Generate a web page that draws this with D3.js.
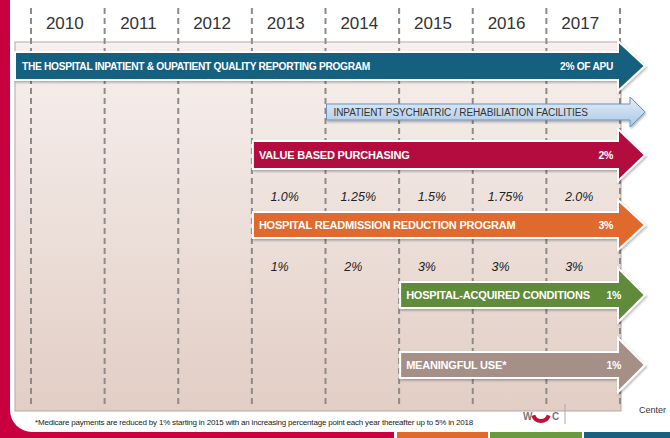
<!DOCTYPE html>
<html>
<head>
<meta charset="utf-8">
<script src="https://cdn.jsdelivr.net/npm/d3@7"></script>
<style>
  body { margin: 0; background: #fff; }
  svg { display: block; font-family: "Liberation Sans", Arial, sans-serif; }
</style>
</head>
<body>
<svg id="chart"></svg>
<script>
// years across the top
const years = ["2010", "2011", "2012", "2013", "2014", "2015", "2016", "2017"];

// programs (arrows)
const programNames = [
  "THE HOSPITAL INPATIENT  & OUPATIENT QUALITY REPORTING PROGRAM",
  "INPATIENT PSYCHIATRIC / REHABILIATION FACILITIES",
  "VALUE BASED PURCHASING",
  "HOSPITAL READMISSION REDUCTION PROGRAM",
  "HOSPITAL-ACQUIRED CONDITIONS",
  "MEANINGFUL USE*"
];
const programStart = ["2010", "2014", "2013", "2013", "2015", "2015"];
const programPenalty = ["2% OF APU", "", "2%", "3%", "1%", "1%"];

// yearly percentages under VBP and HRRP
const pctYears = ["2013", "2014", "2015", "2016", "2017"];
const vbpPct = ["1.0%", "1.25%", "1.5%", "1.75%", "2.0%"];
const hrrpPct = ["1%", "2%", "3%", "3%", "3%"];

const footnote = "*Medicare payments are reduced by 1% starting in 2015 with an increasing percentage point each year thereafter up to 5% in 2018";

const width = 670, height = 438;
const panel = {left: 15, right: 621, top: 42, bottom: 411};

const svg = d3.select("#chart")
  .attr("width", width)
  .attr("height", height);

const defs = svg.append("defs");
const pg = defs.append("linearGradient").attr("id", "panelGrad")
  .attr("x1", 0).attr("y1", 0).attr("x2", 0).attr("y2", 1);
pg.append("stop").attr("offset", "0%").attr("stop-color", "#f7f0ee");
pg.append("stop").attr("offset", "100%").attr("stop-color", "#e2cec5");

const lb = defs.append("linearGradient").attr("id", "lightBlue")
  .attr("x1", 0).attr("y1", 0).attr("x2", 0).attr("y2", 1);
lb.append("stop").attr("offset", "0%").attr("stop-color", "#e3eef9");
lb.append("stop").attr("offset", "100%").attr("stop-color", "#a9c7e6");

const shadow = defs.append("filter").attr("id", "shadow")
  .attr("x", "-5%").attr("y", "-30%").attr("width", "110%").attr("height", "160%");
shadow.append("feDropShadow").attr("dx", 1).attr("dy", 1.5).attr("stdDeviation", 1.2)
  .attr("flood-color", "#000").attr("flood-opacity", 0.3);

// red frame + white rounded area
svg.append("rect").attr("x", 0).attr("y", 0).attr("width", width).attr("height", height).attr("fill", "#c80040");
svg.append("rect").attr("x", 10).attr("y", -40).attr("width", 700).attr("height", 472)
  .attr("rx", 22).attr("fill", "#fff");

// bottom coloured strips
const strips = [["#fff", 394, 397], ["#e06a2c", 397, 488], ["#fff", 488, 490], ["#6a9a3c", 490, 582], ["#fff", 582, 584], ["#17607f", 584, 670]];
svg.selectAll(".strip").data(strips).enter().append("rect")
  .attr("x", d => d[1]).attr("y", 432).attr("width", d => d[2] - d[1]).attr("height", 6)
  .attr("fill", d => d[0]);

// panel
svg.append("rect")
  .attr("x", panel.left).attr("y", panel.top)
  .attr("width", panel.right - panel.left).attr("height", panel.bottom - panel.top)
  .attr("fill", "url(#panelGrad)")
  .attr("stroke", "#b9a8a1").attr("stroke-width", 1);

// year scale
const x = d3.scaleBand().domain(years).range([31, 620]);

// dashed year separators
const bounds = years.map(d => x(d)).concat([x.range()[1]]);
svg.selectAll(".sep").data(bounds).enter().append("line")
  .attr("x1", d => d).attr("x2", d => d)
  .attr("y1", 8).attr("y2", 408)
  .attr("stroke", "#8e8a88").attr("stroke-width", 2)
  .attr("stroke-dasharray", "6,4");

// year labels
svg.selectAll(".year").data(years).enter().append("text")
  .attr("x", d => x(d) + x.bandwidth() / 2 - 3)
  .attr("y", 29)
  .attr("text-anchor", "middle")
  .attr("font-size", 17)
  .attr("fill", "#333")
  .text(d => d);

// row layout (centre y of each arrow)
const rowY = [66, 112, 155, 225, 295, 365];
const bodyHalf = [14, 8, 14, 13, 13, 13];
const headHalf = [25, 15, 26, 25, 27, 27];
const headLen = [27, 15, 27, 27, 27, 27];
const fills = ["#19617f", "url(#lightBlue)", "#b3073f", "#e0692d", "#5f8b3a", "#a58f86"];
const strokes = ["#fff", "#6f93b8", "#fff", "#fff", "#fff", "#fff"];
const labelSize = [10.2, 10, 11, 11, 11, 11];
const labelSpacing = [-0.3, -0.1, -0.2, -0.2, -0.2, -0.2];
const tipX = 645;

function arrowPath(x0, x1, yc, bh, hh, hl) {
  const p = d3.path();
  p.moveTo(x0, yc - bh);
  p.lineTo(x1 - hl, yc - bh);
  p.lineTo(x1 - hl, yc - hh);
  p.lineTo(x1, yc);
  p.lineTo(x1 - hl, yc + hh);
  p.lineTo(x1 - hl, yc + bh);
  p.lineTo(x0, yc + bh);
  p.closePath();
  return p.toString();
}

const programs = programNames.map((name, i) => ({
  name, start: programStart[i], penalty: programPenalty[i], i
}));

const arrows = svg.selectAll(".arrow").data(programs).enter().append("g").attr("class", "arrow");

arrows.append("path")
  .attr("d", d => {
    const x0 = d.start === years[0] ? panel.left : x(d.start) + 1;
    return arrowPath(x0, tipX, rowY[d.i], bodyHalf[d.i], headHalf[d.i], headLen[d.i]);
  })
  .attr("fill", d => fills[d.i])
  .attr("stroke", d => strokes[d.i])
  .attr("stroke-width", d => d.i === 1 ? 1 : 2)
  .attr("stroke-linejoin", "miter")
  .attr("filter", "url(#shadow)");

arrows.append("text")
  .attr("x", d => (d.start === years[0] ? panel.left : x(d.start)) + (d.i === 1 ? 8 : 7))
  .attr("y", d => rowY[d.i] + 3.8)
  .attr("font-size", d => labelSize[d.i])
  .attr("font-weight", d => d.i === 1 ? "normal" : "bold")
  .attr("letter-spacing", d => labelSpacing[d.i])
  .attr("fill", d => d.i === 1 ? "#333" : "#fff")
  .text(d => d.name);

arrows.filter(d => d.penalty !== "").append("text")
  .attr("x", d => d.i >= 4 ? 621 : 613)
  .attr("y", d => rowY[d.i] + 3.8)
  .attr("text-anchor", "end")
  .attr("font-size", d => d.i === 0 ? 10.2 : 10.5)
  .attr("font-weight", "bold")
  .attr("letter-spacing", -0.3)
  .attr("fill", "#fff")
  .text(d => d.penalty);

// percentage rows
const pctRows = [[vbpPct, 201, -4], [hrrpPct, 271, -9]];
pctRows.forEach(([vals, yy, dx]) => {
  svg.selectAll(null).data(vals).enter().append("text")
    .attr("x", (d, i) => x(pctYears[i]) + x.bandwidth() / 2 + dx)
    .attr("y", yy)
    .attr("text-anchor", "middle")
    .attr("font-size", 12.5)
    .attr("font-style", "italic")
    .attr("fill", "#222")
    .text(d => d);
});

// footnote
svg.append("text")
  .attr("x", 35).attr("y", 425)
  .attr("font-size", 8)
  .attr("letter-spacing", -0.2)
  .attr("fill", "#222")
  .text(footnote);

// logo bits
svg.append("path")
  .attr("d", d3.arc()({innerRadius: 6, outerRadius: 10, startAngle: Math.PI / 2 + 0.3, endAngle: Math.PI * 1.5 - 0.3}))
  .attr("transform", "translate(541,413)")
  .attr("fill", "#c0103c");
svg.append("text").attr("x", 523).attr("y", 420).attr("font-size", 10).attr("font-weight", "bold")
  .attr("fill", "#777").text("W");
svg.append("text").attr("x", 552).attr("y", 420).attr("font-size", 10).attr("font-weight", "bold")
  .attr("fill", "#777").text("C");
svg.append("line").attr("x1", 565).attr("x2", 565).attr("y1", 404).attr("y2", 424)
  .attr("stroke", "#aaa").attr("stroke-width", 1);
svg.append("text").attr("x", 639).attr("y", 413).attr("font-size", 9)
  .attr("fill", "#333").text("Center");
</script>
</body>
</html>
